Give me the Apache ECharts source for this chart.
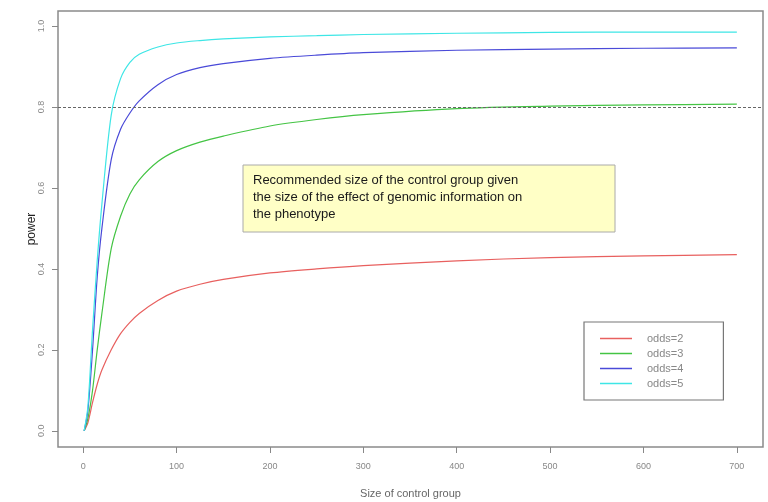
<!DOCTYPE html>
<html>
<head>
<meta charset="utf-8">
<script src="https://cdn.jsdelivr.net/npm/echarts@6/dist/echarts.min.js"></script>
<style>
html, body { margin: 0; padding: 0; background: #fff; }
#chart { width: 768px; height: 502px; }
</style>
</head>
<body>
<div id="chart"></div>
<script>
// values
var sizes  = [1, 5, 10, 15, 20, 30, 40, 50, 60, 80, 100, 125, 150, 200, 250, 300, 400, 500, 600, 700];
var odds2  = [0.0, 0.02, 0.07, 0.115, 0.15, 0.20, 0.24, 0.268, 0.29, 0.322, 0.345, 0.362, 0.374, 0.39, 0.40, 0.408, 0.42, 0.428, 0.432, 0.435];
var odds3  = [0.0, 0.03, 0.10, 0.20, 0.29, 0.45, 0.53, 0.585, 0.62, 0.665, 0.692, 0.713, 0.728, 0.753, 0.769, 0.781, 0.796, 0.802, 0.805, 0.807];
var odds4  = [0.0, 0.05, 0.20, 0.38, 0.50, 0.67, 0.745, 0.785, 0.815, 0.855, 0.88, 0.897, 0.907, 0.92, 0.928, 0.934, 0.94, 0.943, 0.945, 0.946];
var odds5  = [0.0, 0.06, 0.25, 0.42, 0.56, 0.78, 0.87, 0.91, 0.93, 0.948, 0.958, 0.964, 0.968, 0.973, 0.976, 0.979, 0.982, 0.984, 0.985, 0.985];
var names  = ['odds=2', 'odds=3', 'odds=4', 'odds=5'];
var colors = ['#e8605f', '#44c444', '#4a4ad8', '#3ee6e6'];
var xTicks = [0, 100, 200, 300, 400, 500, 600, 700];
var yTicks = [0, 0.2, 0.4, 0.6, 0.8, 1.0];
var target = 0.8;

var chart = echarts.init(document.getElementById('chart'));

function pairs(arr) {
  return sizes.map(function (x, i) { return [x, arr[i]]; });
}

var seriesList = [odds2, odds3, odds4, odds5].map(function (arr, i) {
  var s = {
    name: names[i],
    type: 'line',
    data: pairs(arr),
    smooth: 0.3,
    showSymbol: false,
    symbol: 'none',
    lineStyle: { width: 1.2, color: colors[i] },
    itemStyle: { color: colors[i] },
    z: 3
  };
  if (i === 0) {
    s.markLine = {
      silent: true,
      symbol: 'none',
      label: { show: false },
      lineStyle: { color: '#666', type: [3, 2], width: 1 },
      data: [{ yAxis: target }]
    };
  }
  return s;
});

var option = {
  backgroundColor: '#fff',
  animation: false,
  grid: {
    left: 58, right: 5, top: 11, bottom: 55,
    outerBoundsMode: 'none',
    containLabel: false,
    show: true, borderColor: '#8a8a8a', borderWidth: 1.5
  },
  xAxis: {
    type: 'value',
    min: -27, max: 728,
    name: 'Size of control group',
    nameLocation: 'middle',
    nameGap: 41,
    nameTextStyle: { color: '#666', fontFamily: 'Liberation Sans', fontSize: 11 },
    axisLine: { show: false, onZero: false },
    splitLine: { show: false },
    axisTick: { show: true, length: 6, lineStyle: { color: '#888' }, customValues: xTicks },
    axisLabel: { color: '#888', fontFamily: 'Liberation Sans', fontSize: 9, margin: 15, customValues: xTicks }
  },
  yAxis: {
    type: 'value',
    min: -0.04, max: 1.037,
    name: 'power',
    nameLocation: 'middle',
    nameGap: 20,
    nameMoveOverlap: false,
    nameTextStyle: { color: '#222', fontFamily: 'Liberation Sans', fontSize: 12 },
    axisLine: { show: false, onZero: false },
    splitLine: { show: false },
    axisTick: { show: true, length: 6, lineStyle: { color: '#888' }, customValues: yTicks },
    axisLabel: {
      color: '#888', fontFamily: 'Liberation Sans', fontSize: 9, margin: 12, rotate: 90,
      customValues: yTicks,
      formatter: function (v) { return v.toFixed(1); }
    }
  },
  legend: {
    orient: 'vertical',
    left: 584, top: 322,
    padding: [11, 40, 11, 16],
    borderColor: '#777', borderWidth: 1.2,
    itemWidth: 32, itemHeight: 1.5, itemGap: 4,
    icon: 'rect',
    textStyle: { color: '#888', fontFamily: 'Liberation Sans', fontSize: 11, padding: [0, 0, 0, 10] },
    data: names
  },
  graphic: [
    {
      type: 'rect',
      shape: { x: 243, y: 165, width: 372, height: 67 },
      style: { fill: '#ffffc6', stroke: '#aaa', lineWidth: 1 },
      z: 10
    },
    {
      type: 'text',
      x: 253, y: 172,
      style: {
        text: 'Recommended size of the control group given\nthe size of the effect of genomic information on\nthe phenotype',
        fill: '#1a1a1a',
        font: '13px "Liberation Sans"',
        lineHeight: 17
      },
      z: 11
    }
  ],
  series: seriesList
};

chart.setOption(option);
</script>
</body>
</html>
